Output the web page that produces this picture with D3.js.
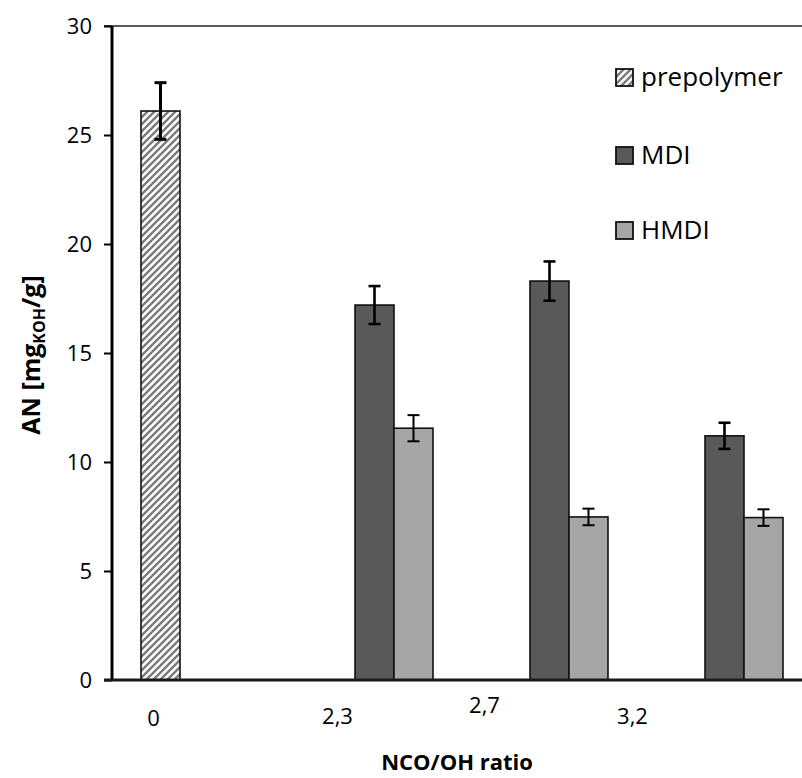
<!DOCTYPE html>
<html>
<head>
<meta charset="utf-8">
<script src="https://cdn.jsdelivr.net/npm/d3@7/dist/d3.min.js"></script>
<style>
  html, body { margin: 0; padding: 0; background: #fff; }
  svg { display: block; font-family: "Open Sans", "Noto Sans", sans-serif; }
</style>
</head>
<body>
<svg id="chart" width="802" height="778"></svg>
<script>
// ---- data ----
const categories = ["0", "2,3", "2,7", "3,2"];
const seriesNames = ["prepolymer", "MDI", "HMDI"];
const prepolymerValues = [26.1, null, null, null];
const prepolymerErrors = [1.3, null, null, null];
const mdiValues = [null, 17.2, 18.3, 11.2];
const mdiErrors = [null, 0.87, 0.9, 0.6];
const hmdiValues = [null, 11.55, 7.48, 7.45];
const hmdiErrors = [null, 0.6, 0.38, 0.38];
const yTicks = [0, 5, 10, 15, 20, 25, 30];

// ---- styling / layout ----
const seriesFill = { prepolymer: "url(#hatch)", MDI: "#595959", HMDI: "#a6a6a6" };
const errWidth = { prepolymer: 3, MDI: 2.6, HMDI: 2 };
// the category labels in the original sit off their category centres
const labelNudgeX = [-46, -37, -65, -92];
const labelNudgeY = [0, -2, -13, -2];

const svg = d3.select("#chart");
const defs = svg.append("defs");
const pat = defs.append("pattern")
  .attr("id", "hatch").attr("patternUnits", "userSpaceOnUse")
  .attr("width", 7).attr("height", 7);
pat.append("rect").attr("width", 7).attr("height", 7).attr("fill", "#fff");
pat.append("path")
  .attr("d", "M-1.75,1.75 L1.75,-1.75 M0,7 L7,0 M5.25,8.75 L8.75,5.25")
  .attr("stroke", "#7a7a7a").attr("stroke-width", 2.4);

const x0 = 112, plotRight = 812, yBottom = 680, yTop = 26;
const x = d3.scaleBand().domain(categories).range([x0, plotRight]).paddingInner(0).paddingOuter(0);
const xs = d3.scaleBand().domain(seriesNames).range([0, x.bandwidth()]).paddingInner(0).paddingOuter(0.744);
const y = d3.scaleLinear().domain([0, 30]).range([yBottom, yTop]);

const seriesData = {
  prepolymer: { v: prepolymerValues, e: prepolymerErrors },
  MDI: { v: mdiValues, e: mdiErrors },
  HMDI: { v: hmdiValues, e: hmdiErrors }
};
const rows = [];
seriesNames.forEach(s => categories.forEach((c, i) => {
  if (seriesData[s].v[i] != null) rows.push({ s, c, v: seriesData[s].v[i], e: seriesData[s].e[i] });
}));

// top border line
svg.append("line").attr("x1", 104).attr("x2", 802).attr("y1", y(30)).attr("y2", y(30))
  .attr("stroke", "#595959").attr("stroke-width", 2);

// bars
svg.append("g").selectAll("rect").data(rows).join("rect")
  .attr("x", d => x(d.c) + xs(d.s))
  .attr("width", xs.bandwidth())
  .attr("y", d => y(d.v))
  .attr("height", d => y(0) - y(d.v))
  .attr("fill", d => seriesFill[d.s])
  .attr("stroke", "#111").attr("stroke-width", 1.6);

// error bars
const eg = svg.append("g").selectAll("g").data(rows).join("g")
  .attr("stroke", "#000").attr("stroke-width", d => errWidth[d.s]);
const cx = d => x(d.c) + xs(d.s) + xs.bandwidth() / 2;
eg.append("line").attr("x1", cx).attr("x2", cx).attr("y1", d => y(d.v + d.e)).attr("y2", d => y(d.v - d.e));
eg.append("line").attr("x1", d => cx(d) - 6).attr("x2", d => cx(d) + 6).attr("y1", d => y(d.v + d.e)).attr("y2", d => y(d.v + d.e));
eg.append("line").attr("x1", d => cx(d) - 6).attr("x2", d => cx(d) + 6).attr("y1", d => y(d.v - d.e)).attr("y2", d => y(d.v - d.e));

// y axis
const yAxis = svg.append("g").attr("transform", `translate(${x0},0)`)
  .call(d3.axisLeft(y).tickValues(yTicks).tickSize(8).tickPadding(12).tickFormat(d3.format("d")));
yAxis.select(".domain").attr("stroke", "#000").attr("stroke-width", 3).attr("d", `M0,${yTop}V${yBottom}`);
yAxis.selectAll(".tick line").attr("stroke", "#000").attr("stroke-width", 2);
yAxis.selectAll(".tick text").attr("font-size", 22).attr("fill", "#000").attr("font-family", "Open Sans");

// x axis line
svg.append("line").attr("x1", 104).attr("x2", 802).attr("y1", yBottom).attr("y2", yBottom)
  .attr("stroke", "#1a1a1a").attr("stroke-width", 3);

// category labels
svg.append("g").selectAll("text").data(categories).join("text")
  .attr("x", (d, i) => x(d) + x.bandwidth() / 2 + labelNudgeX[i])
  .attr("y", (d, i) => 726 + labelNudgeY[i])
  .attr("text-anchor", "middle").attr("font-size", 22).attr("fill", "#000")
  .text(d => d);

// axis titles
svg.append("text").attr("x", 457).attr("y", 770).attr("text-anchor", "middle")
  .attr("font-size", 22).attr("font-weight", "bold").text("NCO/OH ratio");

const yt = svg.append("text").attr("transform", "translate(40,355) rotate(-90)")
  .attr("text-anchor", "middle").attr("font-size", 25).attr("font-weight", "bold");
yt.append("tspan").text("AN [mg");
yt.append("tspan").attr("font-size", 16).attr("dy", 5).text("KOH");
yt.append("tspan").attr("dy", -5).text("/g]");

// legend
const legendY = [77, 155, 230];
const lg = svg.append("g").selectAll("g").data(seriesNames).join("g")
  .attr("transform", (d, i) => `translate(616,${legendY[i]})`);
lg.append("rect").attr("x", 0).attr("y", -8).attr("width", 17).attr("height", 17)
  .attr("fill", d => seriesFill[d]).attr("stroke", "#111").attr("stroke-width", 1.8);
lg.append("text").attr("x", 25).attr("y", 9).attr("font-size", 26)
  .attr("fill", "#000").text(d => d);
</script>
</body>
</html>
